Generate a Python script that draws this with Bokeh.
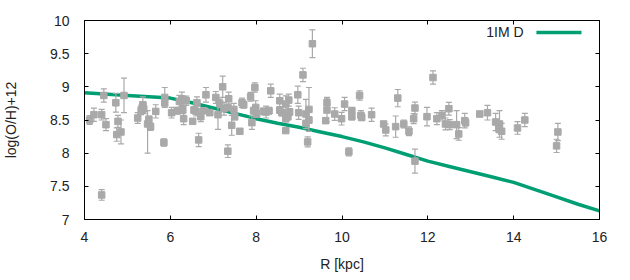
from bokeh.plotting import figure
from bokeh.models import (ColumnDataSource, Whisker, TeeHead, LinearAxis, FixedTicker, Range1d,
                          CustomJSTickFormatter)
from bokeh.core.properties import value
from bokeh.embed import file_html
from bokeh.resources import INLINE

# ---- data ----
R = [4.12, 4.22, 4.40, 4.40, 4.45, 4.50, 4.73, 4.75, 4.78, 4.85, 4.92, 5.24, 5.32, 5.36, 5.38, 5.47,
     5.50, 5.54, 5.66, 5.85, 5.87, 5.87, 6.03,
     6.16, 6.21, 6.27, 6.29, 6.31, 6.37, 6.52, 6.55, 6.60, 6.62, 6.66, 6.71, 6.78, 6.83, 6.92, 7.06,
     7.11, 7.15, 7.22, 7.25, 7.34, 7.34, 7.36, 7.43, 7.48, 7.50, 7.62, 7.67, 7.71, 7.87, 7.90, 7.94,
     7.97, 7.99, 8.01, 8.17,
     8.23, 8.30, 8.34, 8.55, 8.55, 8.60, 8.69, 8.69, 8.69, 8.74, 8.76, 8.78, 8.97, 8.99, 9.09, 9.16,
     9.16, 9.20, 9.23, 9.23, 9.31, 9.62, 9.65, 9.65, 9.83, 9.99, 10.06, 10.16, 10.23, 10.23,
     10.41, 10.44, 10.46, 10.69, 10.97, 11.02, 11.25, 11.30, 11.44, 11.56, 11.67, 11.70, 11.70, 11.98,
     12.12, 12.21, 12.33,
     12.41, 12.49, 12.51, 12.67, 12.72, 12.86, 12.88, 13.21, 13.39, 13.58, 13.67, 13.66, 13.72, 14.09,
     14.26, 15.03, 15.00]
OH = [8.50, 8.58, 8.58, 7.37, 8.87, 8.43, 8.76, 8.28, 8.48, 8.32, 8.87, 8.53, 8.65, 8.73, 8.67, 8.44,
      8.51, 8.40, 8.63, 8.16, 8.84, 8.76, 8.61,
      8.64, 8.78, 8.82, 8.67, 8.52, 8.79, 8.48, 8.65, 8.63, 8.76, 8.20, 8.55, 8.64, 8.88, 8.61, 8.84,
      8.58, 8.75, 9.00, 8.67, 8.69, 8.03, 8.82, 8.42, 8.66, 8.55, 8.33, 8.76, 8.73, 8.85, 8.46, 8.64,
      8.99, 8.69, 8.59, 8.63,
      8.62, 8.64, 8.94, 8.79, 8.65, 8.61, 8.74, 8.52, 8.34, 8.55, 8.80, 8.62, 8.88, 8.61, 9.18, 8.59,
      8.45, 8.17, 8.66, 8.50, 9.65, 8.49, 8.65, 8.76, 8.59, 8.52, 8.74, 8.02, 8.64, 8.55,
      8.87, 8.57, 8.54, 8.58, 8.44, 8.35, 8.40, 8.83, 8.44, 8.33, 8.52, 8.68, 7.88, 8.55,
      9.14, 8.52, 8.57,
      8.44, 8.67, 8.43, 8.43, 8.29, 8.49, 8.46, 8.59, 8.61, 8.47, 8.44, 8.36, 8.33, 8.38,
      8.50, 8.32, 8.11]
ERR_UP = [0.065, 0.10, 0.08, 0.08, 0.10, 0.09, 0.14, 0.10, 0.09, 0.18, 0.26, 0.08, 0.07, 0.12, 0.075, 0.20,
          0.05, 0.055, 0.10, 0.055, 0.15, 0.05, 0.08,
          0.05, 0.09, 0.10, 0.075, 0.09, 0.07, 0.04, 0.05, 0.07, 0.09, 0.10, 0.075, 0.04, 0.11, 0.03, 0.09,
          0.22, 0.065, 0.16, 0.095, 0.05, 0.095, 0.10, 0.15, 0.09, 0.05, 0.02, 0.07, 0.05, 0.065, 0.10, 0.05,
          0.07, 0.10, 0.05, 0.05,
          0.09, 0.05, 0.10, 0.10, 0.05, 0.05, 0.125, 0.05, 0.03, 0.05, 0.09, 0.05, 0.13, 0.10, 0.10, 0.22,
          0.04, 0.075, 0.33, 0.05, 0.21, 0.04, 0.18, 0.08, 0.095, 0.095, 0.10, 0.06, 0.05, 0.05,
          0.07, 0.07, 0.05, 0.10, 0.03, 0.09, 0.16, 0.13, 0.06, 0.065, 0.075, 0.09, 0.18, 0.14,
          0.10, 0.09, 0.07,
          0.09, 0.095, 0.075, 0.21, 0.095, 0.11, 0.05, 0.04, 0.11, 0.13, 0.20, 0.05, 0.12, 0.095,
          0.10, 0.13, 0.10]
ERR_DN = [0.065, 0.10, 0.08, 0.08, 0.10, 0.09, 0.14, 0.10, 0.09, 0.18, 0.26, 0.08, 0.07, 0.12, 0.075, 0.44,
          0.05, 0.055, 0.10, 0.055, 0.15, 0.05, 0.08,
          0.05, 0.09, 0.10, 0.075, 0.09, 0.07, 0.04, 0.05, 0.07, 0.09, 0.10, 0.075, 0.04, 0.11, 0.03, 0.09,
          0.22, 0.065, 0.16, 0.095, 0.05, 0.095, 0.10, 0.15, 0.09, 0.05, 0.02, 0.07, 0.05, 0.065, 0.10, 0.05,
          0.07, 0.10, 0.05, 0.05,
          0.09, 0.05, 0.10, 0.10, 0.05, 0.05, 0.125, 0.05, 0.03, 0.05, 0.09, 0.05, 0.13, 0.10, 0.10, 0.22,
          0.04, 0.075, 0.33, 0.05, 0.21, 0.04, 0.18, 0.08, 0.095, 0.095, 0.10, 0.06, 0.05, 0.05,
          0.07, 0.07, 0.05, 0.10, 0.03, 0.09, 0.16, 0.13, 0.06, 0.065, 0.075, 0.09, 0.18, 0.14,
          0.10, 0.09, 0.07,
          0.09, 0.095, 0.075, 0.21, 0.095, 0.11, 0.05, 0.04, 0.11, 0.13, 0.20, 0.05, 0.12, 0.095,
          0.10, 0.13, 0.10]

MODEL_R = [4, 5, 6, 6.5, 7, 7.5, 8, 8.5, 9, 9.5, 10, 10.5, 11, 11.5, 12, 12.5, 13, 13.5, 14, 14.5, 15, 15.5, 16]
MODEL_Z = [8.91, 8.87, 8.83, 8.76, 8.68, 8.60, 8.52, 8.45, 8.39, 8.32, 8.25, 8.17, 8.08, 7.98, 7.88,
           7.80, 7.72, 7.64, 7.56, 7.45, 7.34, 7.23, 7.13]
MODEL_LABEL = "1IM D"

X_TICKS = [4, 6, 8, 10, 12, 14, 16]
Y_TICKS = [7, 7.5, 8, 8.5, 9, 9.5, 10]
Y_LABELS = ["7", "7.5", "8", "8.5", "9", "9.5", "10"]

GRAY = "#a9a9a9"
GREEN = "#009e73"
FONT = "Liberation Sans"
TXT = "#222222"

p = figure(width=630, height=280, output_backend="svg", toolbar_location=None,
           x_range=Range1d(4, 16), y_range=Range1d(7, 10),
           min_border_left=84, min_border_right=31, min_border_top=20, min_border_bottom=61,
           x_axis_label="R [kpc]", y_axis_label="log(O/H)+12")
p.grid.visible = False
p.outline_line_color = "black"
p.outline_line_width = 1
p.background_fill_color = "white"
p.border_fill_color = "white"

# model line (under points)
p.line(MODEL_R, MODEL_Z, line_color=GREEN, line_width=3.5)

# data with error bars
lower = [o - d for o, d in zip(OH, ERR_DN)]
upper = [o + u for o, u in zip(OH, ERR_UP)]
src = ColumnDataSource(dict(r=R, oh=OH, lo=lower, up=upper))
wh = Whisker(base="r", lower="lo", upper="up", source=src, dimension="height",
             line_color=GRAY, line_width=1.2,
             upper_head=TeeHead(size=6, line_color=GRAY, line_width=1.2),
             lower_head=TeeHead(size=6, line_color=GRAY, line_width=1.2))
wh.level = "glyph"
p.add_layout(wh)
p.scatter("r", "oh", source=src, marker="square", size=6.5, fill_color=GRAY, line_color=GRAY)

# legend (gnuplot style: text then sample)
LEG_X = 14.23
LEG_Y = 9.82
p.text(x=[LEG_X], y=[LEG_Y], text=[MODEL_LABEL], text_align="right", text_baseline="middle",
       text_font=value(FONT), text_font_size="14px", text_color=TXT)
p.segment(x0=[14.53], y0=[LEG_Y], x1=[15.58], y1=[LEG_Y], line_color=GREEN, line_width=3.5)

# axes styling
def style_axis(ax, show_labels=True):
    ax.major_tick_in = 4
    ax.major_tick_out = 0
    ax.minor_tick_in = 0
    ax.minor_tick_out = 0
    ax.axis_line_color = "black"
    ax.major_tick_line_color = "black"
    if show_labels:
        ax.major_label_text_font = FONT
        ax.major_label_text_font_size = "14px"
        ax.major_label_text_color = TXT
        ax.axis_label_text_font = FONT
        ax.axis_label_text_font_size = "14px"
        ax.axis_label_text_font_style = "normal"
        ax.axis_label_text_color = TXT
    else:
        ax.formatter = CustomJSTickFormatter(code="return '';")
        ax.major_label_standoff = 0

xa = p.xaxis[0]
xa.ticker = FixedTicker(ticks=X_TICKS)
style_axis(xa)
xa.major_label_standoff = 12
xa.axis_label_standoff = 11

ya = p.yaxis[0]
ya.ticker = FixedTicker(ticks=Y_TICKS)
ya.major_label_overrides = {t: l for t, l in zip(Y_TICKS, Y_LABELS)}
style_axis(ya)
ya.major_label_standoff = 15
ya.axis_label_standoff = 28

top = LinearAxis(ticker=FixedTicker(ticks=X_TICKS))
style_axis(top, show_labels=False)
p.add_layout(top, "above")
right = LinearAxis(ticker=FixedTicker(ticks=Y_TICKS))
style_axis(right, show_labels=False)
p.add_layout(right, "right")

open("out.html", "w").write(file_html(p, INLINE))
